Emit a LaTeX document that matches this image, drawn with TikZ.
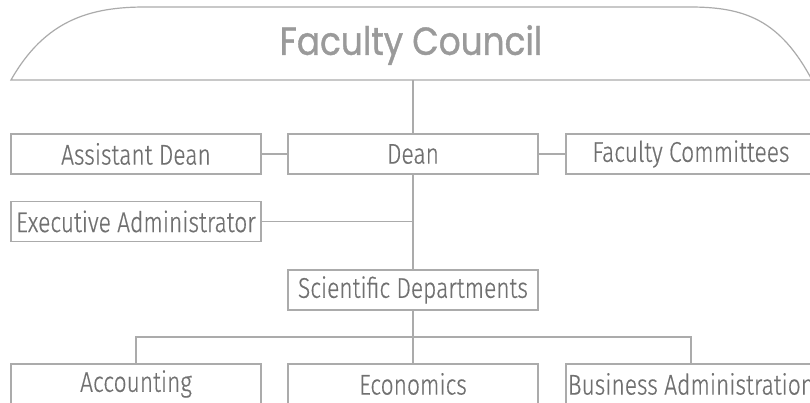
\documentclass[tikz,border=0pt]{standalone}
\usepackage{fontspec}
\setmainfont{Fira Sans}[UprightFont={* Light}, FakeStretch=0.8, FakeBold=0.5]
\newfontfamily\titlefont{Poppins}[FakeStretch=0.88, FakeBold=1]
\definecolor{linegray}{HTML}{ABABAB}
\definecolor{textgray}{HTML}{707070}
\definecolor{titlegray}{HTML}{9A9A9A}
\begin{document}
\begin{tikzpicture}[x=1pt,y=-1pt,
  line/.style={draw=linegray,line width=1.2pt},
  box/.style={line,rectangle,minimum width=250pt,minimum height=40pt,inner sep=0pt,
    text=textgray,font=\fontsize{28.5}{30}\selectfont},
  title/.style={text=titlegray,font=\titlefont\fontsize{39}{42}\selectfont,inner sep=0pt}]
\useasboundingbox (0,0) rectangle (810,402);
\fill[white] (0,0) rectangle (810,402);
% council shape
\draw[line] (11,80) .. controls (45,20) and (90,7) .. (145,7) -- (690,7)
  .. controls (745,7) and (780,20) .. (812,80) -- cycle;
\coordinate (cb) at (413,80);
\node[title] (council) at (411,45) {Faculty Council};
\node[box] (dean) at (413,154) {Dean};
\node[box] (ad) at (136,154) {Assistant Dean};
\node[box] (fc) at (691,154) {Faculty Committees};
\node[box] (ex) at (136,221.5) {Executive Administrator};
\node[box] (sd) at (413,290) {Scientific Departments};
\node[box] (acc) at (136,384) {Accounting};
\node[box] (eco) at (413,384) {Economics};
\node[box] (ba) at (691,384) {Business Administration};
\coordinate (bus) at (413,337);
\draw[line] (cb) -- (dean.north);
\draw[line] (ad.east) -- (dean.west);
\draw[line] (dean.east) -- (fc.west);
\draw[line] (dean.south) -- (sd.north);
\draw[line] (ex.east) -- (ex.east -| dean.south);
\draw[line] (sd.south) -- (eco.north);
\draw[line] (acc.north) |- (bus) -| (ba.north);
\end{tikzpicture}
\end{document}
